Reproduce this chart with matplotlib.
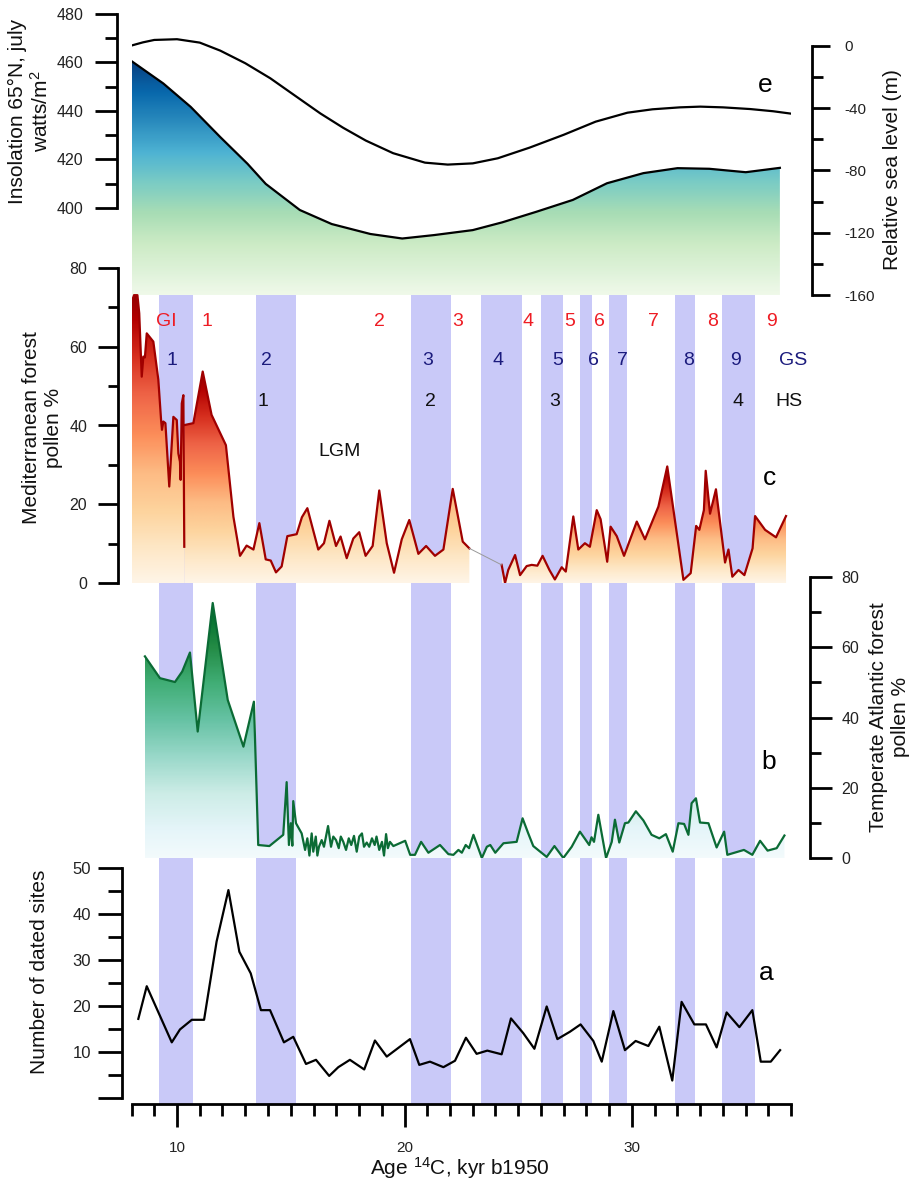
import numpy as np
import matplotlib
matplotlib.use('Agg')
import matplotlib.pyplot as plt
from matplotlib.patches import Polygon
from matplotlib.ticker import FixedLocator

plt.rcParams['font.family'] = ['Liberation Sans', 'DejaVu Sans']
plt.rcParams['axes.unicode_minus'] = False
plt.rcParams['mathtext.fontset'] = 'custom'
plt.rcParams['mathtext.rm'] = 'Liberation Sans'
plt.rcParams['mathtext.it'] = 'Liberation Sans:italic'
plt.rcParams['mathtext.bf'] = 'Liberation Sans:bold'
plt.rcParams['mathtext.default'] = 'rm'

W, H = 914, 1182

# ---- data ----
# insolation 65N july (W/m2), curve e
ins = [(8.0, 467.0), (8.5, 468.3), (9.0, 469.3), (10.0, 469.6), (11.0, 468.2), (11.9, 464.9),
       (13.0, 459.7), (14.1, 453.5), (15.1, 446.9), (16.3, 439.0), (17.3, 433.1), (18.3, 427.8),
       (19.5, 422.6), (20.9, 418.7), (21.9, 417.9), (23.0, 418.4), (24.1, 420.5), (25.5, 424.9),
       (27.0, 430.2), (28.4, 435.6), (29.8, 439.3), (30.9, 440.7), (32.1, 441.5), (33.0, 441.8),
       (34.0, 441.5), (35.2, 440.8), (36.2, 439.9), (37.0, 438.9)]

# relative sea level (m), curve d
sea = [(8.0, -9.7), (9.4, -24.1), (10.6, -39.1), (11.9, -58.5), (13.1, -75.7), (13.9, -88.6),
       (15.4, -105.4), (16.8, -114.4), (18.5, -120.8), (19.9, -123.7), (21.3, -121.5),
       (23.0, -118.3), (24.3, -113.3), (25.8, -106.5), (27.4, -98.9), (28.9, -88.2),
       (30.5, -81.7), (32.0, -78.5), (33.4, -78.9), (35.0, -81.1), (36.5, -78.3)]

# mediterranean forest pollen %, curve c (three pieces)
med1 = [(8.01, 71.4), (8.11, 73.1), (8.26, 73.1), (8.34, 68.5), (8.45, 52.4), (8.52, 57.5),
        (8.59, 57.3), (8.67, 63.4), (8.96, 61.3), (9.18, 51.6), (9.30, 41.4), (9.34, 38.9),
        (9.40, 41.0), (9.49, 40.6), (9.66, 24.5), (9.84, 42.2), (9.99, 41.4), (10.06, 32.9),
        (10.13, 30.8), (10.16, 26.2), (10.21, 45.6), (10.28, 47.7), (10.32, 9.2)]
med2 = [(10.32, 40.1), (10.72, 40.6), (11.13, 53.7), (11.52, 42.7), (12.15, 35.0), (12.48, 16.8),
        (12.77, 6.9), (13.06, 9.5), (13.36, 8.5), (13.62, 15.2), (13.90, 6.0), (14.12, 5.7),
        (14.35, 2.7), (14.60, 4.2), (14.85, 11.9), (15.26, 12.4), (15.49, 16.7), (15.73, 19.0),
        (16.21, 8.5), (16.46, 10.1), (16.70, 15.8), (16.99, 9.4), (17.19, 11.8), (17.46, 6.3),
        (17.75, 11.3), (18.01, 12.9), (18.29, 6.9), (18.60, 9.4), (18.89, 23.5), (19.22, 10.1),
        (19.54, 2.6), (19.88, 11.1), (20.21, 16.0), (20.61, 7.4), (20.95, 9.4), (21.34, 6.9),
        (21.71, 8.5), (22.12, 23.9), (22.56, 10.5), (22.85, 8.8)]
med3 = [(24.27, 4.6), (24.42, 0.0), (24.56, 3.3), (24.86, 7.1), (25.08, 2.0), (25.37, 4.3),
        (25.59, 4.6), (25.84, 4.4), (26.07, 6.9), (26.37, 3.3), (26.61, 0.9), (26.91, 4.0),
        (27.09, 2.9), (27.42, 16.9), (27.64, 8.5), (27.93, 10.1), (28.15, 9.2), (28.45, 18.5),
        (28.62, 16.2), (28.91, 5.4), (29.06, 14.3), (29.33, 11.9), (29.65, 6.9), (30.21, 15.6),
        (30.57, 11.1), (31.16, 19.4), (31.55, 29.6), (32.26, 0.8), (32.58, 2.5), (32.82, 14.5),
        (32.96, 13.5), (33.16, 18.5), (33.24, 28.5), (33.43, 17.6), (33.69, 23.8), (34.09, 5.2),
        (34.24, 8.5), (34.41, 1.6), (34.68, 3.3), (34.94, 2.0), (35.30, 8.8), (35.41, 17.0),
        (35.85, 13.5), (36.33, 11.6), (36.77, 17.0)]

# temperate atlantic forest pollen %, curve b
atl = [(8.59, 57.4), (9.25, 51.2), (9.91, 50.1), (10.23, 53.1), (10.57, 58.5), (10.91, 36.0),
       (11.57, 72.6), (12.23, 45.0), (12.92, 31.7), (13.38, 44.5), (13.57, 3.7), (14.06, 3.4),
       (14.67, 6.6), (14.82, 21.6), (14.92, 3.7), (15.00, 9.9), (15.07, 3.5), (15.11, 16.2),
       (15.23, 9.9), (15.48, 7.0), (15.63, 2.3), (15.73, 5.6), (15.82, 0.7), (15.92, 7.0),
       (15.99, 1.8), (16.10, 6.1), (16.17, 0.7), (16.24, 3.2), (16.36, 5.1), (16.46, 3.2),
       (16.64, 9.1), (16.77, 3.2), (16.87, 6.1), (16.99, 5.1), (17.11, 2.8), (17.20, 6.1),
       (17.31, 4.6), (17.43, 2.3), (17.55, 5.6), (17.66, 3.7), (17.78, 6.3), (17.90, 1.8),
       (18.01, 6.1), (18.13, 7.0), (18.22, 3.2), (18.34, 4.4), (18.45, 3.2), (18.57, 5.6),
       (18.69, 3.7), (18.77, 6.1), (18.89, 2.3), (19.01, 4.6), (19.10, 0.7), (19.19, 6.8),
       (19.27, 2.8), (19.36, 4.6), (19.51, 3.4), (20.03, 4.9), (20.25, 0.9), (20.46, 0.9),
       (20.73, 4.6), (21.05, 1.5), (21.56, 3.7), (21.93, 1.1), (22.15, 0.9), (22.37, 2.3),
       (22.52, 1.5), (22.69, 3.7), (22.84, 2.8), (23.03, 6.6), (23.40, 0.0), (23.62, 3.2),
       (23.77, 3.7), (23.99, 1.5), (24.35, 4.2), (24.93, 4.6), (25.19, 11.3), (25.44, 7.0),
       (25.66, 3.4), (26.25, 0.3), (26.59, 3.4), (26.98, 0.0), (27.35, 3.2), (27.71, 7.5),
       (28.12, 3.7), (28.22, 5.9), (28.33, 4.6), (28.52, 12.3), (28.86, 0.0), (29.11, 4.6),
       (29.25, 10.9), (29.44, 4.4), (29.69, 9.9), (29.84, 10.1), (30.17, 13.3), (30.50, 10.7),
       (30.86, 6.6), (31.20, 5.6), (31.49, 6.8), (31.79, 1.8), (32.04, 9.9), (32.29, 9.7),
       (32.48, 6.6), (32.62, 15.6), (32.81, 17.0), (32.99, 10.1), (33.36, 9.9), (33.72, 3.0),
       (34.05, 7.5), (34.19, 0.9), (34.92, 2.3), (35.29, 0.9), (35.63, 4.9), (35.96, 2.1),
       (36.36, 2.8), (36.70, 6.4)]

# number of dated sites, curve a
sites = [(8.30, 17.2), (8.67, 24.3), (9.77, 12.1), (10.13, 14.9), (10.65, 17.0), (11.19, 17.0),
         (11.74, 34.0), (12.26, 45.2), (12.74, 31.8), (13.24, 27.1), (13.69, 19.1), (14.09, 19.1),
         (14.70, 12.1), (15.11, 13.3), (15.67, 7.4), (16.11, 8.3), (16.69, 4.8), (17.09, 6.7),
         (17.60, 8.3), (18.23, 6.2), (18.70, 12.5), (19.22, 9.0), (20.24, 12.8), (20.65, 7.2),
         (21.12, 7.9), (21.71, 6.7), (22.22, 8.1), (22.70, 13.1), (23.17, 9.6), (23.64, 10.3),
         (24.27, 9.5), (24.68, 17.3), (25.22, 14.1), (25.71, 10.7), (26.25, 19.9), (26.72, 12.8),
         (27.27, 14.4), (27.74, 16.0), (28.30, 12.4), (28.67, 7.9), (29.18, 18.9), (29.69, 10.4),
         (30.16, 12.4), (30.72, 11.3), (31.20, 15.5), (31.77, 3.8), (32.18, 20.9), (32.74, 16.0),
         (33.25, 16.0), (33.72, 11.0), (34.16, 18.6), (34.72, 15.4), (35.29, 19.1), (35.66, 7.9),
         (36.10, 7.9), (36.51, 10.4)]

# stadial bands (kyr)
bands = [(9.21, 10.72), (13.49, 15.22), (20.29, 22.03), (23.36, 25.15), (26.0, 26.95),
         (27.73, 28.24), (28.98, 29.77), (31.89, 32.78), (33.94, 35.41)]

# event labels in panel c
gi_labels = [('GI', 9.55), ('1', 11.33), ('2', 18.92), ('3', 22.32), ('4', 25.44), ('5', 27.27),
             ('6', 28.56), ('7', 30.94), ('8', 33.55), ('9', 36.15)]
gs_labels = [('1', 9.77), ('2', 13.94), ('3', 21.0), ('4', 24.12), ('5', 26.73), ('6', 28.30),
             ('7', 29.60), ('8', 32.47), ('9', 34.57), ('GS', 37.09)]
hs_labels = [('1', 13.79), ('2', 21.12), ('3', 26.62), ('4', 34.67), ('HS', 36.91)]

XMIN, XMAX = 8, 37
BAND = '#c9c9f8'


def frame(top, bottom, left=131.5, right=791.25):
    return [left / W, 1 - bottom / H, (right - left) / W, (bottom - top) / H]


def grad_fill(ax, pts, base, top, cmap, lo=0.0, hi=1.0):
    x, y = np.array(pts).T
    verts = [(x[0], base)] + list(zip(x, y)) + [(x[-1], base)]
    poly = Polygon(verts, closed=True, facecolor='none', edgecolor='none',
                   transform=ax.transData)
    ax.add_patch(poly)
    grad = np.linspace(lo, hi, 256).reshape(-1, 1)
    im = ax.imshow(grad, cmap=cmap, vmin=0, vmax=1, aspect='auto', origin='lower',
                   extent=[x[0], x[-1], base, top], zorder=1, interpolation='bilinear')
    im.set_clip_path(poly)


def yaxis_style(ax, side, out_px, major, minor, bounds, maj_len, min_len, size, pad):
    for s in ['top', 'bottom', 'left', 'right']:
        ax.spines[s].set_visible(False)
    sp = ax.spines[side]
    sp.set_visible(True)
    sp.set_position(('outward', out_px * 0.72))
    sp.set_bounds(*bounds)
    sp.set_linewidth(2)
    ax.yaxis.set_ticks_position(side)
    ax.yaxis.set_label_position(side)
    ax.yaxis.set_major_locator(FixedLocator(major))
    ax.yaxis.set_minor_locator(FixedLocator(minor))
    ax.tick_params(axis='y', which='major', length=maj_len, width=2, labelsize=size,
                   pad=pad, labelcolor='#222222')
    ax.tick_params(axis='y', which='minor', length=min_len, width=2)
    ax.set_xticks([])
    ax.set_xlim(XMIN, XMAX)
    ax.patch.set_alpha(0)


fig = plt.figure(figsize=(W / 100, H / 100), dpi=100)

# background bands
ax_bg = fig.add_axes(frame(295, 1103.5))
for b0, b1 in bands:
    ax_bg.axvspan(b0, b1, color=BAND, lw=0)
ax_bg.set_xlim(XMIN, XMAX)
ax_bg.set_ylim(0, 1)
ax_bg.axis('off')

# ---- top panel: insolation (e) and sea level (d) ----
ax_e = fig.add_axes(frame(14, 295))
ax_d = ax_e.twinx()
grad_fill(ax_d, sea, -160, max(v for _, v in sea), 'GnBu', 0.04, 1.0)
sx, sy = np.array(sea).T
ax_d.plot(sx, sy, color='black', lw=1.6, zorder=3)
ix, iy = np.array(ins).T
ax_e.plot(ix, iy, color='black', lw=1.6, zorder=3)
ax_e.set_ylim(364.12, 480)
ax_d.set_ylim(-160, 20.56)
yaxis_style(ax_e, 'left', 14.5, np.arange(400, 481, 20), np.arange(410, 471, 20),
            (400, 480), 15.8, 8.4, 11.5, 8.5)
yaxis_style(ax_d, 'right', 20.75, np.arange(-160, 1, 40), np.arange(-140, -19, 40),
            (-160, 0), 13, 8, 11, 10)
ax_d.set_xlim(XMIN, XMAX)
ax_e.text(35.85, 450.7, 'e', fontsize=19, ha='center', va='center')
ax_e.text(35.85, 377.7, 'd', fontsize=19, ha='center', va='center')

# ---- panel c: mediterranean forest ----
ax_c = fig.add_axes(frame(268, 583))
for seg in (med1, med2, med3):
    grad_fill(ax_c, seg, 0, max(v for _, v in seg), 'OrRd', 0.02, 0.95)
    x, y = np.array(seg).T
    ax_c.plot(x, y, color='#a00000', lw=1.6, zorder=3)
ax_c.plot([med2[-1][0], med3[0][0]], [med2[-1][1], med3[0][1]], color='#999999', lw=0.7,
          zorder=3)
ax_c.set_ylim(0, 80)
yaxis_style(ax_c, 'left', 13.2, np.arange(0, 81, 20), np.arange(10, 71, 20),
            (0, 80), 14.4, 7, 11.5, 8)
for t, x in gi_labels:
    ax_c.text(x, 66.3, t, color='#ee1c24', fontsize=14, ha='center', va='center')
for t, x in gs_labels:
    ax_c.text(x, 56.6, t, color='#1b1b7d', fontsize=14, ha='center', va='center')
for t, x in hs_labels:
    ax_c.text(x, 46.0, t, color='#111111', fontsize=14, ha='center', va='center')
ax_c.text(17.13, 33.3, 'LGM', color='#111111', fontsize=14, ha='center', va='center')
ax_c.text(36.04, 26.6, 'c', fontsize=19, ha='center', va='center')

# ---- panel b: temperate atlantic forest ----
ax_b = fig.add_axes(frame(577, 858))
grad_fill(ax_b, atl, 0, max(v for _, v in atl), 'BuGn', 0.03, 0.9)
bx, by = np.array(atl).T
ax_b.plot(bx, by, color='#0b6b35', lw=1.6, zorder=3)
ax_b.set_ylim(0, 80)
yaxis_style(ax_b, 'right', 18.75, np.arange(0, 81, 20), np.arange(10, 71, 20),
            (0, 80), 15.8, 8, 11.5, 7)
ax_b.text(35.99, 27.4, 'b', fontsize=19, ha='center', va='center')

# ---- panel a: number of dated sites ----
ax_a = fig.add_axes(frame(868, 1104))
ax_x, ay = np.array(sites).T
ax_a.plot(ax_x, ay, color='black', lw=1.6, zorder=3)
ax_a.set_ylim(-1.304, 50)
yaxis_style(ax_a, 'left', 9.8, np.arange(0, 51, 10), np.arange(5, 46, 10),
            (0, 50), 17, 10, 12, 5)
ax_a.set_yticklabels(['', '10', '20', '30', '40', '50'])
ax_a.spines['bottom'].set_visible(True)
ax_a.spines['bottom'].set_linewidth(2)
ax_a.xaxis.set_major_locator(FixedLocator([10, 20, 30]))
ax_a.xaxis.set_minor_locator(FixedLocator(np.arange(8, 38, 1)))
ax_a.tick_params(axis='x', which='major', length=16.5, width=2, labelsize=11, pad=10,
                 labelcolor='#222222')
ax_a.tick_params(axis='x', which='minor', length=8.6, width=2)
ax_a.set_xlim(XMIN, XMAX)
ax_a.text(35.92, 27.2, 'a', fontsize=19, ha='center', va='center')

# ---- axis titles ----
def label(x, y, s, rot=90):
    fig.text(x / W, 1 - y / H, s, rotation=rot, ha='center', va='center',
             multialignment='center', fontsize=15, color='#111111')

label(30, 111, 'Insolation 65°N, july\nwatts/m$^2$')
label(893, 170, 'Relative sea level (m)')
label(42.5, 428, 'Mediterranean forest\npollen %')
label(890, 717, 'Temperate Atlantic forest\npollen %')
label(40, 972, 'Number of dated sites')
label(460, 1168, 'Age $^{14}$C, kyr b1950', rot=0)

fig.savefig('out.png', dpi=100)
